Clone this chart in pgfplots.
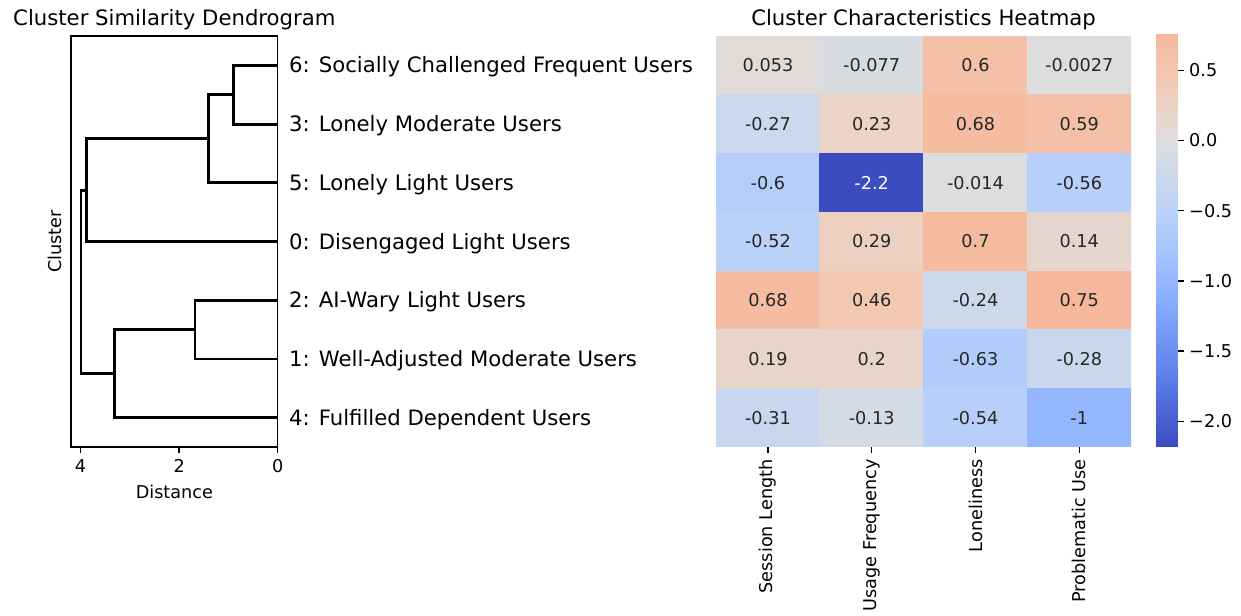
\documentclass[border=0pt]{standalone}
\usepackage{fontspec}
\setmainfont{DejaVu Sans}
\usepackage{pgfplots}
\pgfplotsset{compat=1.18}
\usepackage{pgfplotstable}
\newcommand\tenpt{\fontsize{10}{12}\selectfont}
\newcommand\twelvept{\fontsize{12}{14.4}\selectfont}
\definecolor{annot}{RGB}{38,38,38}
\pgfplotsset{
  /pgf/number format/assume math mode=true,
  colormap={cw}{
    rgb255(0cm)=(59,76,192)
    rgb255(1cm)=(78,104,215)
    rgb255(2cm)=(98,130,234)
    rgb255(3cm)=(119,154,247)
    rgb255(4cm)=(141,176,254)
    rgb255(5cm)=(163,195,255)
    rgb255(6cm)=(184,208,249)
    rgb255(7cm)=(203,216,237)
    rgb255(8cm)=(221,221,221)
    rgb255(9cm)=(237,209,194)
    rgb255(10cm)=(244,196,171)
    rgb255(10.79cm)=(246,183,155)
  },
}
\pgfplotstableread{
x y v
0 6 0.053
1 6 -0.077
2 6 0.6
3 6 -0.0027
0 5 -0.27
1 5 0.23
2 5 0.68
3 5 0.59
0 4 -0.6
1 4 -2.18
2 4 -0.014
3 4 -0.56
0 3 -0.52
1 3 0.29
2 3 0.7
3 3 0.14
0 2 0.68
1 2 0.46
2 2 -0.24
3 2 0.75
0 1 0.19
1 1 0.2
2 1 -0.63
3 1 -0.28
0 0 -0.31
1 0 -0.13
2 0 -0.54
3 0 -1.0
}\heat
\pgfplotstableread{
x y t
0 6 0.053
1 6 -0.077
2 6 0.6
3 6 -0.0027
0 5 -0.27
1 5 0.23
2 5 0.68
3 5 0.59
0 4 -0.6
2 4 -0.014
3 4 -0.56
0 3 -0.52
1 3 0.29
2 3 0.7
3 3 0.14
0 2 0.68
1 2 0.46
2 2 -0.24
3 2 0.75
0 1 0.19
1 1 0.2
2 1 -0.63
3 1 -0.28
0 0 -0.31
1 0 -0.13
2 0 -0.54
3 0 -1
}\darktext
\pgfplotstableread{
x y t
1 4 -2.2
}\lighttext
\pgfplotstableread{
x y
0 -2.18
1 -2.18
0 0.76
1 0.76
}\cbar
\begin{document}
\begin{tikzpicture}
\path[use as bounding box] (0,0) rectangle (702.4pt,348.1pt);
% ---------------- Dendrogram ----------------
\begin{axis}[
  at={(40.2pt,95.1pt)}, anchor=south west,
  scale only axis, width=117pt, height=232.6pt,
  xmin=0, xmax=4.193, ymin=0, ymax=70,
  x dir=reverse,
  xtick={0,2,4},
  ytick={5,15,25,35,45,55,65},
  yticklabels={4: Fulfilled Dependent Users,1: Well-Adjusted Moderate Users,2: AI-Wary Light Users,0: Disengaged Light Users,5: Lonely Light Users,3: Lonely Moderate Users,6: Socially Challenged Frequent Users},
  yticklabel pos=right,
  ytick style={draw=none},
  xtick pos=bottom,
  tick align=outside,
  major tick length=3.5pt,
  xtick style={black, line width=0.8pt},
  axis line style={black, line width=0.8pt},
  xticklabel style={font=\tenpt},
  yticklabel style={font=\twelvept, anchor=base west, inner sep=0pt, xshift=2.8pt, yshift=-4.3pt},
  xlabel={Distance},
  xlabel style={font=\tenpt, at={(axis description cs:0.5,0)}, anchor=base, yshift=-29.2pt},
  ylabel={Cluster},
  ylabel style={font=\tenpt, at={(axis description cs:-0.0453,0.5)}, anchor=base},
  title={Cluster Similarity Dendrogram},
  every axis title/.style={at={(0.5,1)}, anchor=base, yshift=6pt, font=\twelvept},
]
\addplot[black, line width=1.6pt] coordinates {(0,65) (0.90,65) (0.90,55) (0,55)};
\addplot[black, line width=1.6pt] coordinates {(0.90,60) (1.40,60) (1.40,45) (0,45)};
\addplot[black, line width=1.6pt] coordinates {(0,25) (1.68,25) (1.68,15) (0,15)};
\addplot[black, line width=1.6pt] coordinates {(1.40,52.5) (3.88,52.5) (3.88,35) (0,35)};
\addplot[black, line width=1.6pt] coordinates {(1.68,20) (3.31,20) (3.31,5) (0,5)};
\addplot[black, line width=1.6pt] coordinates {(3.88,43.75) (3.99,43.75) (3.99,12.5) (3.31,12.5)};
\end{axis}
% ---------------- Heatmap ----------------
\begin{axis}[
  at={(405.3pt,95.1pt)}, anchor=south west,
  scale only axis, width=234.9pt, height=232.6pt,
  xmin=-0.5, xmax=3.5, ymin=-0.5, ymax=6.5,
  enlargelimits=false,
  axis line style={draw=none},
  xtick={0,1,2,3},
  xticklabels={Session Length,Usage Frequency,Loneliness,Problematic Use},
  xticklabel style={font=\tenpt, rotate=90, anchor=east},
  xtick pos=bottom,
  ytick=\empty,
  tick align=outside,
  major tick length=3.5pt,
  xtick style={black, line width=0.8pt},
  colormap name=cw,
  point meta min=-2.18, point meta max=0.76,
  title={Cluster Characteristics Heatmap},
  every axis title/.style={at={(0.5,1)}, anchor=base, yshift=6pt, font=\twelvept},
]
\addplot[matrix plot*, mesh/cols=4, point meta=explicit] table[x=x, y=y, meta=v] {\heat};
\addplot[only marks, mark=none,
  point meta=explicit symbolic,
  nodes near coords,
  nodes near coords align=center,
  every node near coord/.append style={font=\tenpt, text=annot, anchor=center},
] table[x=x, y=y, meta=t] {\darktext};
\addplot[only marks, mark=none,
  point meta=explicit symbolic,
  nodes near coords,
  nodes near coords align=center,
  every node near coord/.append style={font=\tenpt, text=white, anchor=center},
] table[x=x, y=y, meta=t] {\lighttext};
\end{axis}
% ---------------- Colorbar ----------------
\begin{axis}[
  at={(654.3pt,95.3pt)}, anchor=south west,
  scale only axis, width=12.3pt, height=233.7pt,
  xmin=0, xmax=1, ymin=-2.18, ymax=0.76,
  enlargelimits=false,
  axis line style={draw=none},
  xtick=\empty,
  ytick={-2,-1.5,-1,-0.5,0,0.5},
  yticklabels={−2.0,−1.5,−1.0,−0.5,0.0,0.5},
  ytick pos=right,
  yticklabel pos=right,
  tick align=outside,
  major tick length=3.5pt,
  ytick style={black, line width=0.8pt},
  yticklabel style={font=\tenpt, anchor=west, inner sep=0pt, xshift=2.8pt},
  colormap name=cw,
  point meta min=-2.18, point meta max=0.76,
]
\addplot[surf, shader=interp, mesh/cols=2, point meta=\thisrow{y}] table[x=x, y=y] {\cbar};
\end{axis}
\end{tikzpicture}
\end{document}
